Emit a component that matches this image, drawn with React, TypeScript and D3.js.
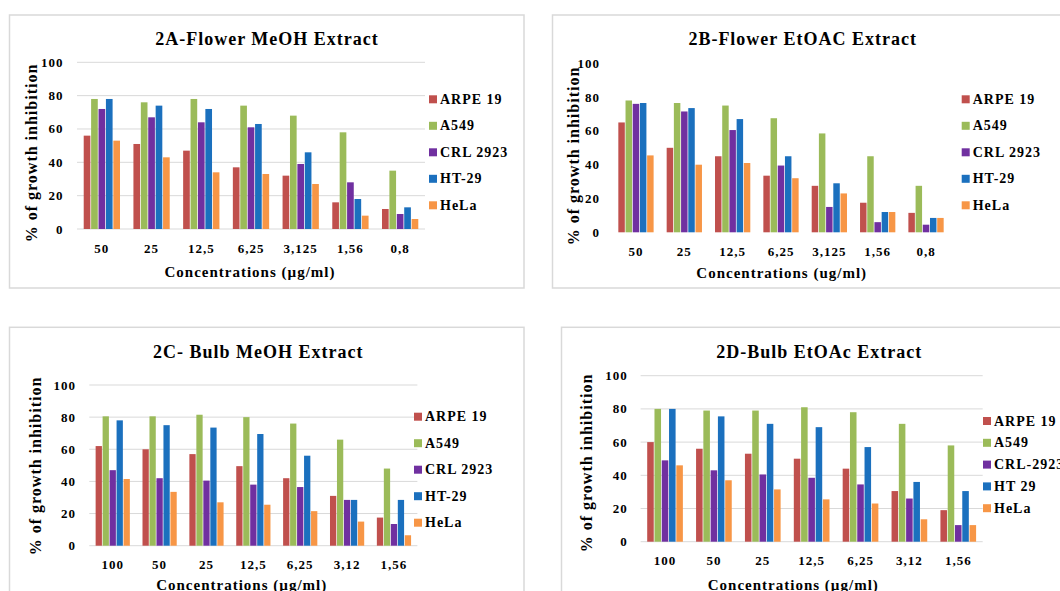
import React from "react";
import * as d3 from "d3";

// ---------- DATA ----------
const seriesNames = ["ARPE 19", "A549", "CRL 2923", "HT-29", "HeLa"];
const seriesNamesD = ["ARPE 19", "A549", "CRL-2923", "HT 29", "HeLa"];
const yTicks = [0, 20, 40, 60, 80, 100];

const categoriesA = ["50", "25", "12,5", "6,25", "3,125", "1,56", "0,8"];
const arpeA = [56, 51, 47, 37, 32, 16, 12];
const a549A = [78, 76, 78, 74, 68, 58, 35];
const crlA = [72, 67, 64, 61, 39, 28, 9];
const htA = [78, 74, 72, 63, 46, 18, 13];
const helaA = [53, 43, 34, 33, 27, 8, 6];

const categoriesB = ["50", "25", "12,5", "6,25", "3,125", "1,56", "0,8"];
const arpeB = [65, 50, 45, 33.5, 27.5, 17.5, 11.5];
const a549B = [78, 76.5, 75, 67.5, 58.5, 45, 27.5];
const crlB = [76, 71.5, 60.5, 39.5, 15, 6, 4.5];
const htB = [76.5, 73.5, 67, 45, 29, 12, 8.5];
const helaB = [45.5, 40, 41, 32, 23, 12, 8.5];

const categoriesC = ["100", "50", "25", "12,5", "6,25", "3,12", "1,56"];
const arpeC = [62, 60, 57, 49.5, 42, 31, 17.5];
const a549C = [80.5, 80.5, 81.5, 80, 76, 66, 48];
const crlC = [47, 42, 40.5, 38, 36.5, 28.5, 13.5];
const htC = [78, 75, 73.5, 69.5, 56, 28.5, 28.5];
const helaC = [41.5, 33.5, 27, 25.5, 21.5, 15, 6.5];

const categoriesD = ["100", "50", "25", "12,5", "6,25", "3,12", "1,56"];
const arpeD = [60, 56, 53, 50, 44, 30.5, 19];
const a549D = [80, 79, 79, 81, 78, 71, 58];
const crlD = [49, 43, 40.5, 38.5, 34.5, 26, 10];
const htD = [80, 75.5, 71, 69, 57, 36, 30.5];
const helaD = [46, 37, 31.5, 25.5, 23, 13.5, 10];

const colors = ["#C0504D", "#9BBB59", "#7030A0", "#1B70BE", "#F79646"];

// ---------- LAYOUT ----------
type PanelCfg = {
  title: string;
  xTitle: string;
  categories: string[];
  series: number[][];
  names: string[];
  box: { x: number; y: number; w: number; h: number };
  plot: { x0: number; x1: number; yTop: number; yBot: number };
  grid: boolean;
  tickRight: number;
  yTitle: { x: number; y: number };
  titlePos: { x: number; y: number };
  xTitlePos: { x: number; y: number };
  catY: number;
  legend: { x: number; y0: number; dy: number };
};

const panels: PanelCfg[] = [
  {
    title: "2A-Flower MeOH Extract",
    xTitle: "Concentrations (µg/ml)",
    categories: categoriesA,
    series: [arpeA, a549A, crlA, htA, helaA],
    names: seriesNames,
    box: { x: 9.5, y: 15, w: 514.5, h: 273 },
    plot: { x0: 77, x1: 425, yTop: 62.3, yBot: 229 },
    grid: true,
    tickRight: 63.5,
    yTitle: { x: 31, y: 153 },
    titlePos: { x: 267, y: 39 },
    xTitlePos: { x: 250, y: 271.7 },
    catY: 248,
    legend: { x: 429, y0: 99.3, dy: 26.5 },
  },
  {
    title: "2B-Flower EtOAC Extract",
    xTitle: "Concentrations (ug/ml)",
    categories: categoriesB,
    series: [arpeB, a549B, crlB, htB, helaB],
    names: seriesNames,
    box: { x: 552.5, y: 15, w: 520, h: 273 },
    plot: { x0: 611.8, x1: 950.2, yTop: 63.3, yBot: 232.3 },
    grid: false,
    tickRight: 600,
    yTitle: { x: 573, y: 156 },
    titlePos: { x: 802.7, y: 39.3 },
    xTitlePos: { x: 781.7, y: 273.3 },
    catY: 251.7,
    legend: { x: 961.7, y0: 99.3, dy: 26.5 },
  },
  {
    title: "2C- Bulb MeOH Extract",
    xTitle: "Concentrations (µg/ml)",
    categories: categoriesC,
    series: [arpeC, a549C, crlC, htC, helaC],
    names: seriesNames,
    box: { x: 9.5, y: 327.3, w: 514.5, h: 300 },
    plot: { x0: 89.3, x1: 417.4, yTop: 385, yBot: 545.7 },
    grid: true,
    tickRight: 76,
    yTitle: { x: 35, y: 466 },
    titlePos: { x: 258.3, y: 351.7 },
    xTitlePos: { x: 241.7, y: 585 },
    catY: 564.3,
    legend: { x: 414, y0: 416.7, dy: 26.5 },
  },
  {
    title: "2D-Bulb EtOAc Extract",
    xTitle: "Concentrations (µg/ml)",
    categories: categoriesD,
    series: [arpeD, a549D, crlD, htD, helaD],
    names: seriesNamesD,
    box: { x: 561.5, y: 327.3, w: 520, h: 300 },
    plot: { x0: 640.6, x1: 982.7, yTop: 375.7, yBot: 541.7 },
    grid: true,
    tickRight: 627.7,
    yTitle: { x: 586.7, y: 463 },
    titlePos: { x: 819.3, y: 351.7 },
    xTitlePos: { x: 793.3, y: 585 },
    catY: 560,
    legend: { x: 983, y0: 421, dy: 21.8 },
  },
];

const FONT = '"Liberation Serif", "DejaVu Serif", "Times New Roman", serif';

function Panel({ cfg }: { cfg: PanelCfg }) {
  const { plot } = cfg;
  const x0 = d3
    .scaleBand<string>()
    .domain(cfg.categories)
    .range([plot.x0, plot.x1])
    .paddingInner(0.27)
    .paddingOuter(0.135);
  const x1 = d3
    .scaleBand<number>()
    .domain(d3.range(cfg.series.length))
    .range([0, x0.bandwidth()])
    .paddingInner(0.1);
  const y = d3.scaleLinear().domain([0, 100]).range([plot.yBot, plot.yTop]);

  const txt = { fontFamily: FONT, fontWeight: 700 as const };

  return (
    <g fill="#000">
      <rect
        x={cfg.box.x}
        y={cfg.box.y}
        width={cfg.box.w}
        height={cfg.box.h}
        fill="#fff"
        stroke="#D9D9D9"
        strokeWidth={1.5}
      />
      {cfg.grid &&
        yTicks.map((t) => (
          <line
            key={"g" + t}
            x1={plot.x0}
            x2={plot.x1}
            y1={y(t)}
            y2={y(t)}
            stroke="#D9D9D9"
            strokeWidth={1}
          />
        ))}
      {yTicks.map((t) => (
        <text
          key={"t" + t}
          x={cfg.tickRight}
          y={y(t)}
          textAnchor="end"
          dominantBaseline="central"
          style={{ ...txt, fontSize: 13, letterSpacing: 1 }}
        >
          {t}
        </text>
      ))}
      {cfg.categories.map((c, ci) => (
        <g key={"c" + c}>
          {cfg.series.map((s, si) => (
            <rect
              key={si}
              x={(x0(c) as number) + (x1(si) as number)}
              y={y(s[ci])}
              width={x1.bandwidth()}
              height={y(0) - y(s[ci])}
              fill={colors[si]}
            />
          ))}
          <text
            x={(x0(c) as number) + x0.bandwidth() / 2}
            y={cfg.catY}
            textAnchor="middle"
            dominantBaseline="central"
            style={{ ...txt, fontSize: 13, letterSpacing: 1 }}
          >
            {c}
          </text>
        </g>
      ))}
      <text
        x={cfg.titlePos.x}
        y={cfg.titlePos.y}
        textAnchor="middle"
        dominantBaseline="central"
        style={{ ...txt, fontSize: 18, letterSpacing: 1 }}
      >
        {cfg.title}
      </text>
      <text
        x={cfg.xTitlePos.x}
        y={cfg.xTitlePos.y}
        textAnchor="middle"
        dominantBaseline="central"
        style={{ ...txt, fontSize: 15, letterSpacing: 1 }}
      >
        {cfg.xTitle}
      </text>
      <text
        transform={`translate(${cfg.yTitle.x},${cfg.yTitle.y}) rotate(-90)`}
        textAnchor="middle"
        dominantBaseline="central"
        style={{ ...txt, fontSize: 16, letterSpacing: 1 }}
      >
        % of growth inhibition
      </text>
      {cfg.names.map((n, i) => (
        <g key={"l" + i}>
          <rect
            x={cfg.legend.x}
            y={cfg.legend.y0 + i * cfg.legend.dy - 4}
            width={8}
            height={8}
            fill={colors[i]}
          />
          <text
            x={cfg.legend.x + 11}
            y={cfg.legend.y0 + i * cfg.legend.dy}
            dominantBaseline="central"
            style={{ ...txt, fontSize: 14, letterSpacing: 1 }}
          >
            {n}
          </text>
        </g>
      ))}
    </g>
  );
}

export default function App() {
  return (
    <div style={{ position: "absolute", left: 0, top: 0 }}>
      <svg width={1060} height={591} style={{ display: "block", background: "#fff" }}>
        <rect x={0} y={0} width={1060} height={591} fill="#fff" />
        {panels.map((p, i) => (
          <Panel key={i} cfg={p} />
        ))}
      </svg>
    </div>
  );
}
